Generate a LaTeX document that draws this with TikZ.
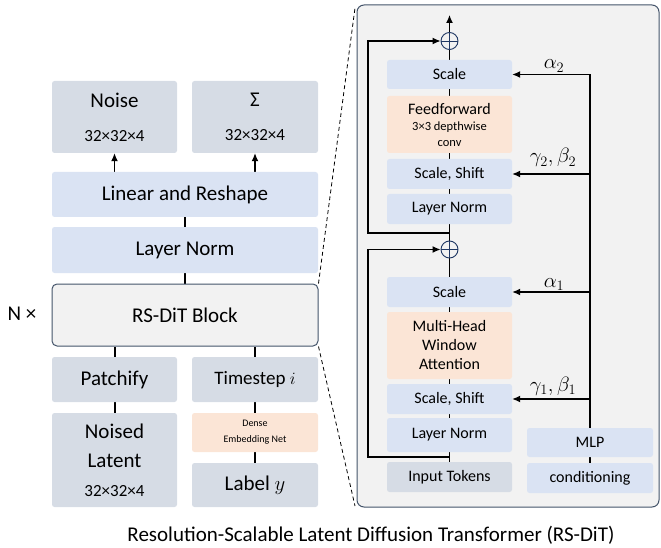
\documentclass[tikz,border=0pt]{standalone}
\usepackage{fontspec}
\setmainfont{Carlito}
\usetikzlibrary{arrows.meta}

\pgfdeclarelayer{back}
\pgfdeclarelayer{links}
\pgfsetlayers{back,links,main}

\definecolor{boxblue}{HTML}{DAE3F3}
\definecolor{boxgray}{HTML}{D6DCE5}
\definecolor{boxpeach}{HTML}{FBE5D6}
\definecolor{panelfill}{HTML}{F2F2F2}
\definecolor{paneldraw}{HTML}{44546A}
\definecolor{plusdraw}{HTML}{203864}

\tikzset{
	blk/.style={rounded corners=2.5pt, inner sep=0pt, align=center, font=\fontsize{21}{26}\selectfont},
	blueblk/.style={blk, fill=boxblue},
	grayblk/.style={blk, fill=boxgray},
	peachblk/.style={blk, fill=boxpeach},
	inblk/.style={minimum width=125pt, font=\fontsize{16}{19}\selectfont},
	plus/.style={circle, draw=plusdraw, fill=panelfill, line width=0.9pt, minimum size=17pt, inner sep=0pt,
		path picture={\draw[plusdraw, line width=0.9pt] (path picture bounding box.north) -- (path picture bounding box.south) (path picture bounding box.west) -- (path picture bounding box.east);}},
	arr/.style={-{Latex[length=8pt,width=7pt]}, line width=1.2pt},
	link/.style={line width=2pt},
	lbl/.style={font=\fontsize{20}{24}\selectfont, inner sep=0pt, anchor=base}
}

\begin{document}
\begin{tikzpicture}[x=1pt, y=-1pt]
	\useasboundingbox (0,0) rectangle (661,548);

	\begin{pgfonlayer}{back}
		\node[draw=paneldraw, fill=panelfill, line width=1pt, rounded corners=7pt, minimum width=302pt, minimum height=502pt, inner sep=0pt] (panel) at (508,256) {};
	\end{pgfonlayer}

	\node[grayblk, minimum width=125pt, minimum height=72pt] (noise) at (114.5,117) {Noise\\[8pt]{\fontsize{17}{20}\selectfont 32×32×4}};
	\node[grayblk, minimum width=126pt, minimum height=72pt] (sigma) at (255,117) {Σ\\[8pt]{\fontsize{17}{20}\selectfont 32×32×4}};
	\node[blueblk, minimum width=266pt, minimum height=45pt] (linear) at (185,194.5) {Linear and Reshape};
	\node[blueblk, minimum width=266pt, minimum height=46pt] (lnorm) at (185,250) {Layer Norm};
	\node[blk, fill=panelfill, draw=paneldraw, line width=1pt, rounded corners=5pt, minimum width=266pt, minimum height=62pt] (block) at (185,315) {RS-DiT Block};
	\node[blk] (rep) at (22,314) {N ×};
	\node[grayblk, minimum width=125pt, minimum height=45pt] (patch) at (114.5,379.5) {Patchify};
	\node[grayblk, minimum width=126pt, minimum height=45pt, font=\fontsize{19}{23}\selectfont] (tstep) at (255,379.5) {Timestep $i$};
	\node[grayblk, minimum width=125pt, minimum height=94pt, font=\fontsize{21}{29}\selectfont] (noised) at (114.5,460) {Noised\\Latent\\{\fontsize{17}{20}\selectfont 32×32×4}};
	\node[peachblk, minimum width=126pt, minimum height=39pt, font=\fontsize{10}{16}\selectfont] (dense) at (255,432.5) {Dense\\Embedding Net};
	\node[grayblk, minimum width=126pt, minimum height=44pt] (label) at (255,485) {Label $y$};

	\node[plus] (plusB) at (449.5,41) {};
	\node[blueblk, inblk, minimum height=29pt] (scaleB) at (449.5,74.5) {Scale};
	\node[peachblk, inblk, minimum height=57pt, font=\fontsize{16}{16}\selectfont] (ffn) at (449.5,124.5) {Feedforward\\{\fontsize{12.5}{15}\selectfont 3×3 depthwise}\\{\fontsize{12.5}{15}\selectfont conv}};
	\node[blueblk, inblk, minimum height=30pt] (ssB) at (449.5,174) {Scale, Shift};
	\node[blueblk, inblk, minimum height=30pt] (lnB) at (449.5,209) {Layer Norm};
	\node[plus] (plusA) at (449.5,249.5) {};
	\node[blueblk, inblk, minimum height=30pt] (scaleA) at (449.5,292) {Scale};
	\node[peachblk, inblk, minimum height=67pt] (mhwa) at (449.5,345.5) {Multi-Head\\Window\\Attention};
	\node[blueblk, inblk, minimum height=30pt] (ssA) at (449.5,399) {Scale, Shift};
	\node[blueblk, inblk, minimum height=34pt] (lnA) at (449.5,435) {Layer Norm};
	\node[grayblk, inblk, minimum height=30pt] (tokens) at (449.5,477) {Input Tokens};
	\node[blueblk, inblk, minimum width=126pt, minimum height=29pt] (mlp) at (590,442.5) {MLP};
	\node[blueblk, inblk, minimum width=126pt, minimum height=30pt] (cond) at (590,478) {conditioning};

	\node[lbl] (alB) at (554,69) {$\alpha_2$};
	\node[lbl] (gbB) at (553,163) {$\gamma_2,\beta_2$};
	\node[lbl] (alA) at (554,287) {$\alpha_1$};
	\node[lbl] (gbA) at (553,391) {$\gamma_1,\beta_1$};

	\node[font=\fontsize{21}{25}\selectfont] (caption) at (371,535) {Resolution-Scalable Latent Diffusion Transformer (RS-DiT)};

	\coordinate (resA) at (449.5,457);
	\coordinate (resB) at (449.5,233);
	\coordinate (outB) at (449.5,15);
	\coordinate (zoomT) at (355,8);
	\coordinate (zoomB) at (355,506);

	\begin{pgfonlayer}{links}
		\draw[arr] (linear.north -| noise.south) -- (noise.south);
		\draw[arr] (linear.north -| sigma.south) -- (sigma.south);
		\draw[link] (lnorm.north) -- (linear.south);
		\draw[link] (block.north) -- (lnorm.south);
		\draw[link] (patch.north) -- (patch.north |- block.south);
		\draw[link] (tstep.north) -- (tstep.north |- block.south);
		\draw[link] (noised.north) -- (patch.south);
		\draw[link] (dense.north) -- (tstep.south);
		\draw[link] (label.north) -- (dense.south);

		\draw[dashed, dash pattern=on 4pt off 3pt, line width=0.8pt] (block.north east) -- (zoomT);
		\draw[dashed, dash pattern=on 4pt off 3pt, line width=0.8pt] (block.south east) -- (zoomB);

		\draw[line width=1pt] (tokens.north) -- (plusA.south);
		\draw[line width=1pt] (plusA.north) -- (plusB.south);
		\draw[arr] (plusB.north) -- (outB);
		\draw[arr] (resA) -- ++(-81.5,0) |- (plusA.west);
		\draw[arr] (resB) -- ++(-81.5,0) |- (plusB.west);

		\draw[line width=1.2pt] (mlp.north) -- (mlp.north |- scaleB.east);
		\foreach \n in {scaleB,ssB,scaleA,ssA}
			\draw[arr] (mlp.north |- \n.east) -- (\n.east);
		\draw[link] (mlp.south) -- (cond.north);
	\end{pgfonlayer}
\end{tikzpicture}
\end{document}
